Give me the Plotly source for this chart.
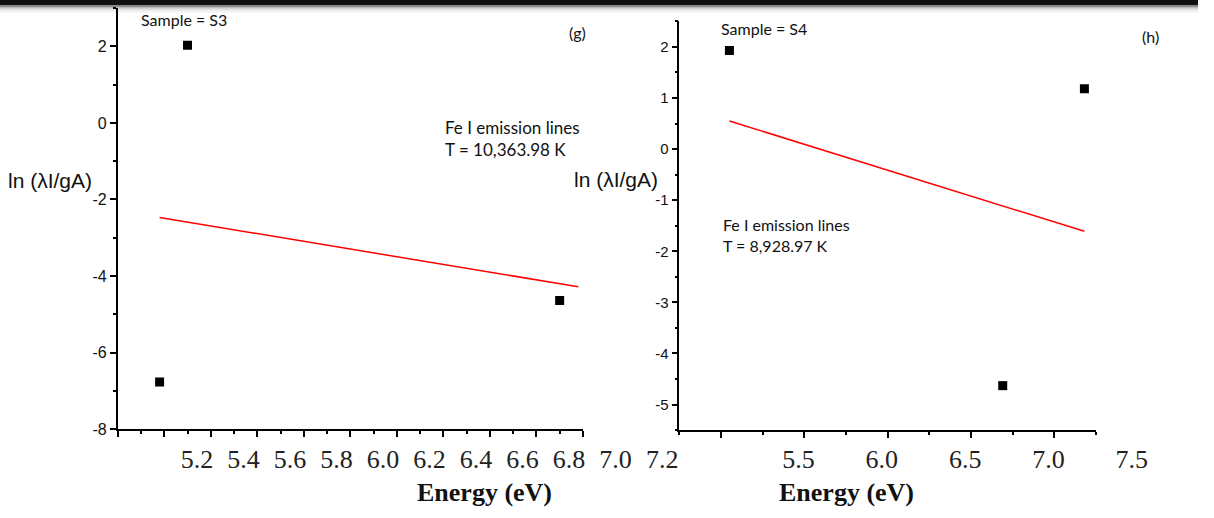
import plotly.graph_objects as go

W, H = 1214, 518


def fx(px):
    return px / W


def fy(py):
    return 1 - py / H


# Panel (g): sample S3
g_energy = [4.98, 5.10, 6.70]
g_ln = [-6.77, 2.03, -4.64]
g_fit_energy = [4.98, 6.78]
g_fit_ln = [-2.47, -4.28]
g_xticks = [4.8, 5.0, 5.2, 5.4, 5.6, 5.8, 6.0, 6.2, 6.4, 6.6, 6.8]
g_xlabels = [5.2, 5.4, 5.6, 5.8, 6.0, 6.2, 6.4, 6.6, 6.8, 7.0, 7.2]
g_yticks = [-8, -6, -4, -2, 0, 2]

# Panel (h): sample S4
h_energy = [5.05, 6.69, 7.18]
h_ln = [1.93, -4.63, 1.18]
h_fit_energy = [5.05, 7.18]
h_fit_ln = [0.55, -1.61]
h_xticks = [5.0, 5.5, 6.0, 6.5, 7.0]
h_xlabels = [5.5, 6.0, 6.5, 7.0, 7.5]
h_yticks = [-5, -4, -3, -2, -1, 0, 1, 2]

AX = "#000000"
SANS = "Liberation Sans, Arial, sans-serif"
SERIF = "Liberation Serif, Times New Roman, serif"
NOTE = "Lato, Noto Sans, sans-serif"

# pixel geometry of the two panels
G_X0, G_X1, G_Y0, G_Y1 = 119.3, 590.7, 436.7, 8.3
H_X0, H_X1, H_Y0, H_Y1 = 688.5, 1110.7, 437.7, 21.7
G_STEP = (G_X1 - G_X0) / 10      # pixels per 0.2 eV
H_STEP = (H_X1 - H_X0) / 10      # pixels per 0.25 eV

fig = go.Figure()

marker = dict(symbol="square", size=9, color="black")
line = dict(color="#ff0000", width=1.5)

fig.add_trace(go.Scatter(x=g_energy, y=g_ln, mode="markers", marker=marker,
                         xaxis="x", yaxis="y", showlegend=False))
fig.add_trace(go.Scatter(x=g_fit_energy, y=g_fit_ln, mode="lines", line=line,
                         xaxis="x", yaxis="y", showlegend=False))
fig.add_trace(go.Scatter(x=h_energy, y=h_ln, mode="markers", marker=marker,
                         xaxis="x2", yaxis="y2", showlegend=False))
fig.add_trace(go.Scatter(x=h_fit_energy, y=h_fit_ln, mode="lines", line=line,
                         xaxis="x2", yaxis="y2", showlegend=False))
# empty traces that carry the tick-label axes
fig.add_trace(go.Scatter(x=[], y=[], xaxis="x3", yaxis="y3", showlegend=False))
fig.add_trace(go.Scatter(x=[], y=[], xaxis="x4", yaxis="y4", showlegend=False))

axis_common = dict(showline=True, linecolor=AX, linewidth=1.6, ticks="outside",
                   tickcolor=AX, tickwidth=1.5, ticklen=6, showgrid=False,
                   zeroline=False, mirror=False)

label_axis = dict(showline=False, ticks="", showgrid=False, zeroline=False,
                  tickfont=dict(family=SERIF, size=26, color="#222222"),
                  tickmode="array")

G_SHIFT = 14   # tick labels sit a little left of their ticks
H_SHIFT = 6

fig.update_layout(
    width=W, height=H,
    margin=dict(l=0, r=0, t=0, b=0),
    paper_bgcolor="white", plot_bgcolor="white",
    xaxis=dict(domain=[fx(G_X0), fx(G_X1)], range=[4.8, 6.8], anchor="y",
               tickmode="array", tickvals=g_xticks, showticklabels=False,
               minor=dict(dtick=0.1, tick0=4.8, ticks="outside", ticklen=3,
                          tickcolor=AX, tickwidth=1.5),
               **axis_common),
    yaxis=dict(domain=[fy(G_Y0), fy(G_Y1)], range=[-8, 3], anchor="x",
               tickmode="array", tickvals=g_yticks,
               ticktext=[str(v) for v in g_yticks],
               tickfont=dict(family=SANS, size=16, color="#111111"),
               minor=dict(dtick=1, tick0=-7, ticks="outside", ticklen=3,
                          tickcolor=AX, tickwidth=1.5),
               **axis_common),
    xaxis2=dict(domain=[fx(H_X0), fx(H_X1)], range=[4.75, 7.25], anchor="y2",
                tickmode="array", tickvals=h_xticks, showticklabels=False,
                minor=dict(dtick=0.25, tick0=4.75, ticks="outside", ticklen=3,
                           tickcolor=AX, tickwidth=1.5),
                **axis_common),
    yaxis2=dict(domain=[fy(H_Y0), fy(H_Y1)], range=[-5.5, 2.5], anchor="x2",
                tickmode="array", tickvals=h_yticks,
                ticktext=[str(v) for v in h_yticks],
                tickfont=dict(family=SANS, size=15, color="#111111"),
                minor=dict(dtick=0.5, tick0=-5.5, ticks="outside", ticklen=3,
                           tickcolor=AX, tickwidth=1.5),
                **axis_common),
    xaxis3=dict(domain=[fx(G_X0 - G_SHIFT), fx(G_X1 + 2 * G_STEP - G_SHIFT)],
                range=[4.8, 7.2], anchor="y3",
                tickvals=g_xlabels, ticktext=[f"{v:.1f}" for v in g_xlabels],
                **label_axis),
    yaxis3=dict(domain=[fy(449), fy(448)], range=[0, 1], anchor="x3", visible=False),
    xaxis4=dict(domain=[fx(H_X0 - H_SHIFT), fx(H_X1 + H_STEP - H_SHIFT)],
                range=[4.75, 7.5], anchor="y4",
                tickvals=h_xlabels, ticktext=[f"{v:.1f}" for v in h_xlabels],
                **label_axis),
    yaxis4=dict(domain=[fy(449), fy(448)], range=[0, 1], anchor="x4", visible=False),
)

ann = []


def text(x, y, s, font, xanchor="left"):
    ann.append(dict(x=fx(x), y=fy(y), xref="paper", yref="paper", text=s,
                    showarrow=False, xanchor=xanchor, yanchor="middle", font=font))


note_font = dict(family=NOTE, size=16, color="#111111")
note_big = dict(family=NOTE, size=17, color="#111111")

text(141, 20, "Sample = S3", note_font)
text(585, 33, "(g)", note_font, xanchor="center")
text(449, 130, "Fe I emission lines", note_big)
text(449, 152, "T = 10,363.98 K", note_big)
text(729, 29, "Sample = S4", note_font)
text(1166, 37, "(h)", note_font, xanchor="center")
text(731, 228, "Fe I emission lines", note_font)
text(731, 250, "T = 8,928.97 K", note_font)

ytitle_font = dict(family=SANS, size=21, color="#111111")
text(6, 184, "ln (λI/gA)", ytitle_font)
text(580, 183, "ln (λI/gA)", ytitle_font)

xtitle_font = dict(family=SERIF, size=26, color="#111111")
text(491, 501, "<b>Energy (eV)</b>", xtitle_font, xanchor="center")
text(858, 501, "<b>Energy (eV)</b>", xtitle_font, xanchor="center")

fig.update_layout(annotations=ann)

# dark rule across the top edge with a soft shadow below it
bands = [(0, 5, "#111111"), (5, 7, "#8a8a8a"), (7, 9, "#bdbdbd"),
         (9, 11, "#e2e2e2"), (11, 13, "#f4f4f4")]
fig.update_layout(shapes=[
    dict(type="rect", xref="paper", yref="paper", x0=0, x1=1,
         y0=fy(b), y1=fy(t), fillcolor=c, line=dict(width=0), layer="below")
    for t, b, c in bands
])

fig.write_html("out.html")
